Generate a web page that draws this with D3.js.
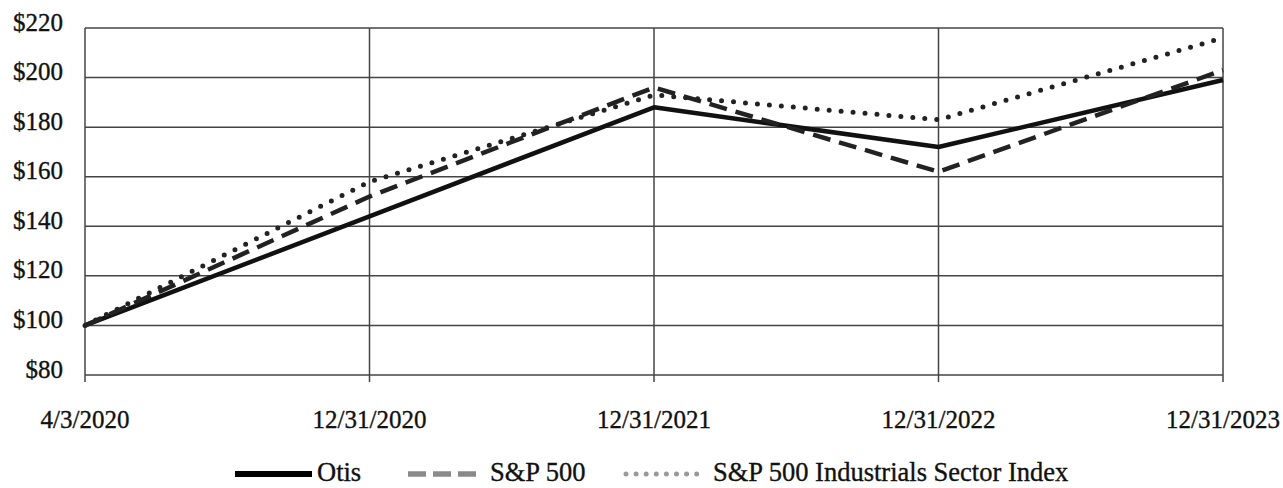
<!DOCTYPE html>
<html>
<head>
<meta charset="utf-8">
<script src="https://cdn.jsdelivr.net/npm/d3@7"></script>
<style>
  body { margin: 0; background: #fff; }
  text { font-family: "Liberation Serif", "DejaVu Serif", serif; fill: #111; stroke: #111; stroke-width: 0.35px; }
</style>
</head>
<body>
<div id="chart"></div>
<script>
// data
var dates = ["4/3/2020", "12/31/2020", "12/31/2021", "12/31/2022", "12/31/2023"];
var otis = [100, 144, 188, 172, 199];
var sp500 = [100, 152, 196, 162, 203];
var industrials = [100, 158, 193, 183, 216];
var yTicks = [80, 100, 120, 140, 160, 180, 200, 220];

var svgWidth = 1283, svgHeight = 488;
var margin = {top: 28, right: 60, bottom: 113, left: 85};
var width = svgWidth - margin.left - margin.right;
var height = svgHeight - margin.top - margin.bottom;

var svg = d3.select("#chart")
    .append("svg")
        .attr("width", svgWidth)
        .attr("height", svgHeight)
    .append("g")
        .attr("transform", `translate(${margin.left}, ${margin.top})`);

var x = d3.scalePoint().domain(dates).range([0, width]);
var y = d3.scaleLinear().domain([80, 220]).range([height, 0]);

// horizontal grid
svg.selectAll(".hgrid")
    .data(yTicks)
    .enter().append("line")
        .attr("x1", 0).attr("x2", width)
        .attr("y1", d => y(d)).attr("y2", d => y(d))
        .attr("stroke", "#444").attr("stroke-width", 1.5);

// vertical grid + ticks under the axis
svg.selectAll(".vgrid")
    .data(dates)
    .enter().append("line")
        .attr("x1", d => x(d)).attr("x2", d => x(d))
        .attr("y1", 0).attr("y2", height + 7)
        .attr("stroke", "#444").attr("stroke-width", 1.5);

// y labels
svg.selectAll(".ylab")
    .data(yTicks)
    .enter().append("text")
        .attr("x", -22)
        .attr("y", d => y(d))
        .attr("dy", "0.1em")
        .attr("text-anchor", "end")
        .attr("font-size", 25)
        .text(d => "$" + d);

// x labels
svg.selectAll(".xlab")
    .data(dates)
    .enter().append("text")
        .attr("x", d => x(d))
        .attr("y", height + 53)
        .attr("text-anchor", "middle")
        .attr("font-size", 25)
        .text(d => d);

var line = d3.line()
    .x((d, i) => x(dates[i]))
    .y(d => y(d));

var series = [
    {name: "Otis", values: otis, dash: null, cap: "butt", color: "#111", legendColor: "#000", w: 4.5},
    {name: "S&P 500", values: sp500, dash: "18,9", cap: "butt", color: "#222", legendColor: "#8a8a8a", w: 4.5},
    {name: "S&P 500 Industrials Sector Index", values: industrials, dash: "0,12", cap: "round", color: "#222", legendColor: "#999", w: 5}
];

series.forEach(s => {
    svg.append("path")
        .datum(s.values)
        .attr("d", line)
        .attr("fill", "none")
        .attr("stroke", s.color)
        .attr("stroke-width", s.w)
        .attr("stroke-linecap", s.cap)
        .attr("stroke-linejoin", "round")
        .attr("stroke-dasharray", s.dash);
});

// legend
var legend = d3.select("svg").append("g");
var legendStart = [235, 408, 626];
var legendEnd = [312, 476, 697];
var legendText = [317, 490, 713];
var legendDash = [null, "18,7", "0,10.1"];
var legendW = [6, 5.5, 5];
series.forEach((s, i) => {
    legend.append("line")
        .attr("x1", legendStart[i]).attr("x2", legendEnd[i])
        .attr("y1", 474).attr("y2", 474)
        .attr("stroke", s.legendColor)
        .attr("stroke-width", legendW[i])
        .attr("stroke-linecap", s.cap)
        .attr("stroke-dasharray", legendDash[i]);
    legend.append("text")
        .attr("x", legendText[i])
        .attr("y", 481)
        .attr("font-size", 26.5)
        .text(s.name);
});
</script>
</body>
</html>
